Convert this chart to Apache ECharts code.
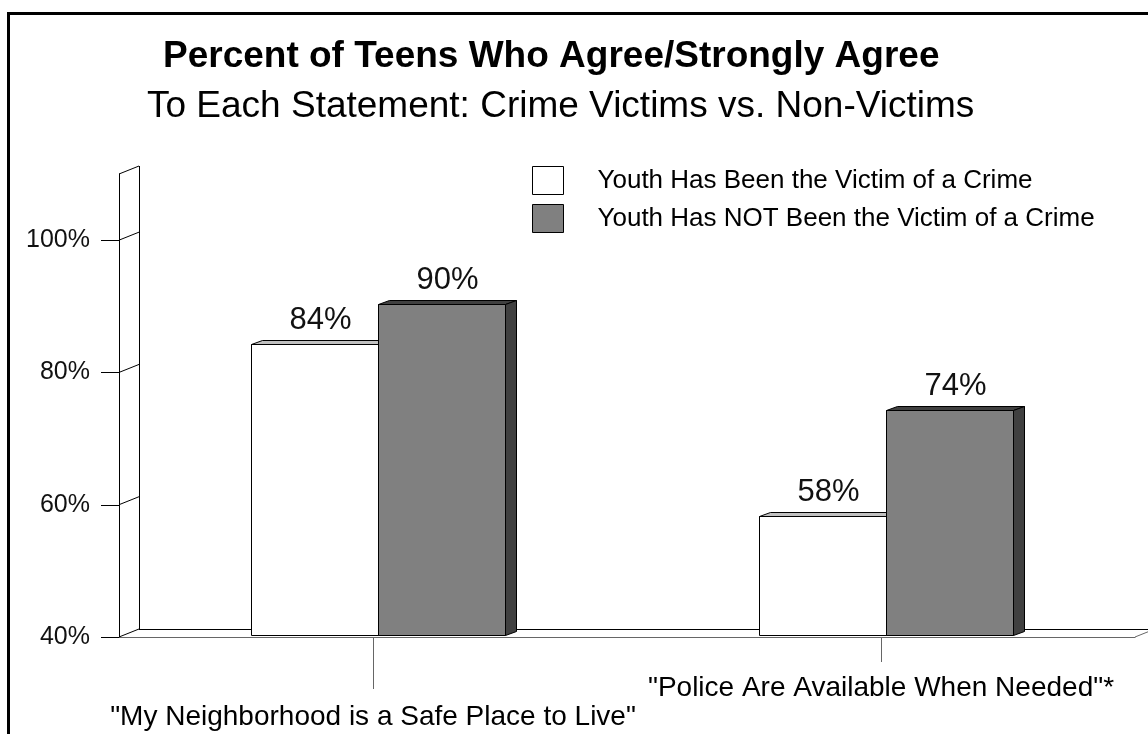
<!DOCTYPE html>
<html><head><meta charset="utf-8">
<script src="https://cdn.jsdelivr.net/npm/echarts@6/dist/echarts.min.js"></script>
<style>html,body{margin:0;padding:0;background:#fff}#c{width:1148px;height:734px}</style>
</head><body><div id="c"></div>
<script>
const categories = ['"My Neighborhood is a Safe Place to Live"', '"Police Are Available When Needed"*'];
const seriesNames = ['Youth Has Been the Victim of a Crime', 'Youth Has NOT Been the Victim of a Crime'];
const victimValues = [84, 58];
const nonVictimValues = [90, 74];
const yTickValues = [40, 60, 80, 100];
const yMin = 40, yMax = 110, yStep = 20;
const titleText = 'Percent of Teens Who Agree/Strongly Agree';
const subtitleText = 'To Each Statement: Crime Victims vs. Non-Victims';

const FONT = '"Liberation Sans", Arial, Helvetica, sans-serif';
const DX = 11, DY = -4;      // bar depth
const WX = 20, WY = -8;      // wall/floor depth
const SX = 5, SY = -2;       // bars sit at mid depth
const catTickLen = [52, 25];

function px(v) { return Math.round(v) + 0.5; }

function barRender(idx, face, topc, side) {
  return function (params, api) {
    const ci = api.value(0), v = api.value(1);
    const base = api.coord([ci, yMin]);
    const top = api.coord([ci, v]);
    const band = api.size([1, 0])[0];
    const w = Math.round(band * 0.25);
    const xL = px(base[0] - w + idx * w + SX);
    const xR = xL + w;
    const yB = px(base[1] + SY);
    const yT = px(top[1] + SY);
    return {
      type: 'group',
      children: [
        {type: 'rect', shape: {x: xL, y: yT, width: w, height: yB - yT}, style: {fill: face, stroke: '#000', lineWidth: 1}},
        {type: 'polygon', shape: {points: [[xL, yT], [xL + DX, yT + DY], [xR + DX, yT + DY], [xR, yT]]}, style: {fill: topc, stroke: '#000', lineWidth: 1}},
        {type: 'polygon', shape: {points: [[xR, yT], [xR + DX, yT + DY], [xR + DX, yB + DY], [xR, yB]]}, style: {fill: side, stroke: '#000', lineWidth: 1}},
        {type: 'text', style: {text: v + '%', x: (xL + xR) / 2 + DX / 2, y: yT - 24, align: 'center', verticalAlign: 'middle', fontSize: 31, fontFamily: FONT, fill: '#111'}}
      ]
    };
  };
}

function frameRender(params, api) {
  const cs = params.coordSys;
  const x0 = cs.x, x1 = cs.x + cs.width;
  const y0 = api.coord([0, yMin])[1], yT = api.coord([0, yMax])[1];
  const ch = [];
  const L = (a, b, c, d, col) => ch.push({type: 'line', shape: {x1: a, y1: b, x2: c, y2: d}, style: {stroke: col || '#000', lineWidth: 1}});
  const bx = px(x0 + WX);
  L(bx, y0 + WY, bx, yT + WY);
  yTickValues.concat([yMax]).forEach(v => {
    const y = api.coord([0, v])[1];
    L(x0, y, x0 + WX, y + WY);
  });
  yTickValues.forEach(v => {
    const y = px(api.coord([0, v])[1]);
    L(x0 - 18, y, x0, y);
  });
  L(x0 + WX, px(y0 + WY), x1 + WX + 20, px(y0 + WY));
  L(x1, y0, x1 + WX, y0 + WY, '#666');
  categories.forEach((c, i) => {
    const x = px(api.coord([i, yMin])[0]);
    L(x, y0, x, y0 + catTickLen[i], '#666');
  });
  return {type: 'group', children: ch};
}

const chart = echarts.init(document.getElementById('c'), null, {renderer: 'canvas'});
chart.setOption({
  animation: false,
  backgroundColor: '#fff',
  title: [
    {text: titleText, left: 163, top: 37, padding: 0, textStyle: {fontSize: 37, fontWeight: 'bold', fontFamily: FONT, color: '#000', lineHeight: 40}},
    {text: subtitleText, left: 147, top: 87, padding: 0, textStyle: {fontSize: 37, fontWeight: 'normal', fontFamily: FONT, color: '#000', lineHeight: 40}}
  ],
  legend: {
    orient: 'vertical', left: 532, top: 166, padding: 0,
    itemWidth: 31, itemHeight: 28, itemGap: 9, selectedMode: false,
    textStyle: {fontSize: 26, fontFamily: FONT, color: '#000', lineHeight: 28, padding: [0, 0, 0, 29]},
    data: [
      {name: seriesNames[0], icon: 'rect', itemStyle: {color: '#fff', borderColor: '#000', borderWidth: 1}},
      {name: seriesNames[1], icon: 'rect', itemStyle: {color: '#808080', borderColor: '#000', borderWidth: 1}}
    ]
  },
  grid: {left: 119, top: 174, width: 1016, height: 463},
  xAxis: {
    type: 'category', data: categories, boundaryGap: true,
    axisLine: {show: true, lineStyle: {color: '#666', width: 1}},
    axisTick: {show: false},
    axisLabel: {interval: 0, margin: 37, fontSize: 28, fontFamily: FONT, color: '#000', lineHeight: 29,
      formatter: (v, i) => i === 0 ? '\n' + v : v}
  },
  yAxis: {
    type: 'value', min: yMin, max: yMax, interval: yStep,
    axisLine: {show: true, lineStyle: {color: '#000', width: 1}},
    axisTick: {show: false},
    splitLine: {show: false},
    axisLabel: {margin: 29, fontSize: 25, fontFamily: FONT, color: '#111',
      formatter: v => (yTickValues.indexOf(v) >= 0 ? v + '%' : '')}
  },
  graphic: [
    {type: 'polyline', shape: {points: [[8.5, 740], [8.5, 13.5], [1160, 13.5]]}, style: {stroke: '#000', lineWidth: 3, fill: null}, z: 100}
  ],
  series: [
    {type: 'custom', name: 'frame', renderItem: frameRender, data: [[0, yMin]], clip: false, silent: true, z: 1},
    {type: 'custom', name: seriesNames[0], renderItem: barRender(0, '#ffffff', '#c0c0c0', '#c0c0c0'),
      data: victimValues.map((v, i) => [i, v]), encode: {x: 0, y: 1}, clip: false, itemStyle: {color: '#ffffff'}, z: 2},
    {type: 'custom', name: seriesNames[1], renderItem: barRender(1, '#808080', '#404040', '#404040'),
      data: nonVictimValues.map((v, i) => [i, v]), encode: {x: 0, y: 1}, clip: false, itemStyle: {color: '#808080'}, z: 3}
  ]
});
</script></body></html>
